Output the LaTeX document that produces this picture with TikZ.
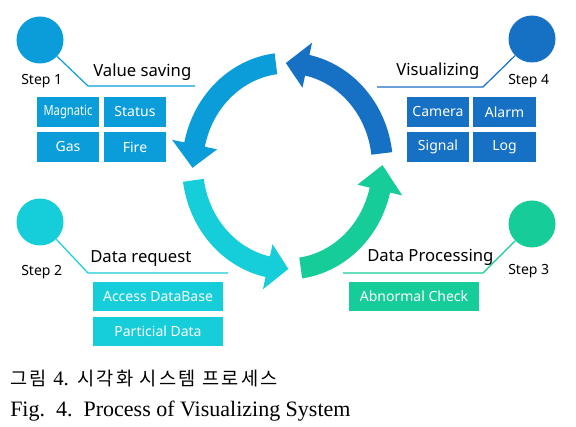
\documentclass[tikz,border=0pt]{standalone}
\usepackage{fontspec}
\setmainfont{Liberation Serif}
\newfontfamily\uifont{Noto Sans}
\newfontfamily\krfont[LetterSpace=12]{Noto Sans CJK KR}
\definecolor{cone}{RGB}{11,157,217}
\definecolor{ctwo}{RGB}{22,205,218}
\definecolor{cthree}{RGB}{22,204,152}
\definecolor{cfour}{RGB}{22,112,196}
\newcommand{\cycarrow}[4]{%
  \fill[#1] plot[variable=\t, domain=#2:#3, samples=40] ({287.5+105.5*cos(\t)},{166-113.5*sin(\t)})
    -- ({287.5+118*cos(#3)},{166-126*sin(#3)})
    -- ({287.5+95*cos(#4)},{166-103*sin(#4)})
    -- ({287.5+72*cos(#3)},{166-80*sin(#3)})
    -- plot[variable=\t, domain=#2:#3, samples=40] ({287.5+84.5*cos(#2+#3-\t)},{166-92.5*sin(#2+#3-\t)})
    -- cycle;}
\tikzset{
  stepdot/.style={circle, fill=#1, draw=none, minimum size=35.25pt, inner sep=0},
  leader/.style={draw=#1, line width=0.9pt},
  title/.style={anchor=base west, inner sep=0, font=\uifont\fontsize{12.5}{14}\selectfont},
  steplabel/.style={anchor=base west, inner sep=0, font=\uifont\fontsize{10.5}{12}\selectfont},
  tile/.style={fill=#1, text=white, inner sep=0, minimum width=46.5pt, minimum height=22.5pt, font=\uifont\fontsize{10.5}{12}\selectfont},
  widetile/.style={fill=#1, text=white, inner sep=0, minimum width=97.5pt, minimum height=21.75pt, font=\uifont\fontsize{10.5}{12}\selectfont},
}
\begin{document}
\begin{tikzpicture}[x=0.75pt, y=-0.75pt]
\useasboundingbox[fill=white] (0,0) rectangle (576,427);
% cycle arrows
\cycarrow{cone}{97}{168}{181}
\cycarrow{cfour}{7}{78}{91}
\cycarrow{ctwo}{188}{258}{270.5}
\cycarrow{cthree}{278}{346.5}{360.5}
% Step 1
\node[stepdot=cone] (c1) at (40,40) {};
\coordinate (k1) at (88,86);
\coordinate (e1) at (195,86);
\draw[leader=cone] (c1) -- (k1) -- (e1);
\node[title] (t1) at (93,77) {Value saving};
\node[steplabel] (s1) at (21,85) {Step 1};
\node[tile=cone] (b11) at (68,112) {\scalebox{0.8}[1]{Magnatic}};
\node[tile=cone] (b12) at (135,112) {Status};
\node[tile=cone] (b13) at (68,147) {Gas};
\node[tile=cone] (b14) at (135,147) {Fire};
% Step 4
\node[stepdot=cfour] (c4) at (532,39) {};
\coordinate (k4) at (483,87);
\coordinate (e4) at (377,87);
\draw[leader=cfour] (c4) -- (k4) -- (e4);
\node[title] (t4) at (396,76) {Visualizing};
\node[steplabel] (s4) at (508,85) {Step 4};
\node[tile=cfour] (b41) at (438,112) {Camera};
\node[tile=cfour, minimum width=47.25pt] (b42) at (504.5,112) {Alarm};
\node[tile=cfour] (b43) at (438,147) {Signal};
\node[tile=cfour, minimum width=47.25pt] (b44) at (504.5,147) {Log};
% Step 2
\node[stepdot=ctwo] (c2) at (40,222) {};
\coordinate (k2) at (88,273);
\coordinate (e2) at (228,273);
\draw[leader=ctwo] (c2) -- (k2) -- (e2);
\node[title] (t2) at (90,263) {Data request};
\node[steplabel] (s2) at (21,276) {Step 2};
\node[widetile=ctwo] (b21) at (158,296.5) {Access DataBase};
\node[widetile=ctwo] (b22) at (158,331.5) {Particial Data};
% Step 3
\node[stepdot=cthree] (c3) at (532,224) {};
\coordinate (k3) at (483,273);
\coordinate (e3) at (343,273);
\draw[leader=cthree] (c3) -- (k3) -- (e3);
\node[title] (t3) at (367,262) {Data Processing};
\node[steplabel] (s3) at (508,275) {Step 3};
\node[widetile=cthree] (b31) at (414,296.5) {Abnormal Check};
% caption
\node[anchor=base west, inner sep=0, font=\krfont\fontsize{14}{16}\selectfont] (cap1) at (10,386) {그림 {\rmfamily\fontsize{15.5}{16}\selectfont 4.} 시각화 시스템 프로세스};
\node[anchor=base west, inner sep=0, font=\rmfamily\fontsize{16.5}{18}\selectfont] (cap2) at (10,417) {Fig.\ \ 4.\ \ Process of Visualizing System};
\end{tikzpicture}
\end{document}
